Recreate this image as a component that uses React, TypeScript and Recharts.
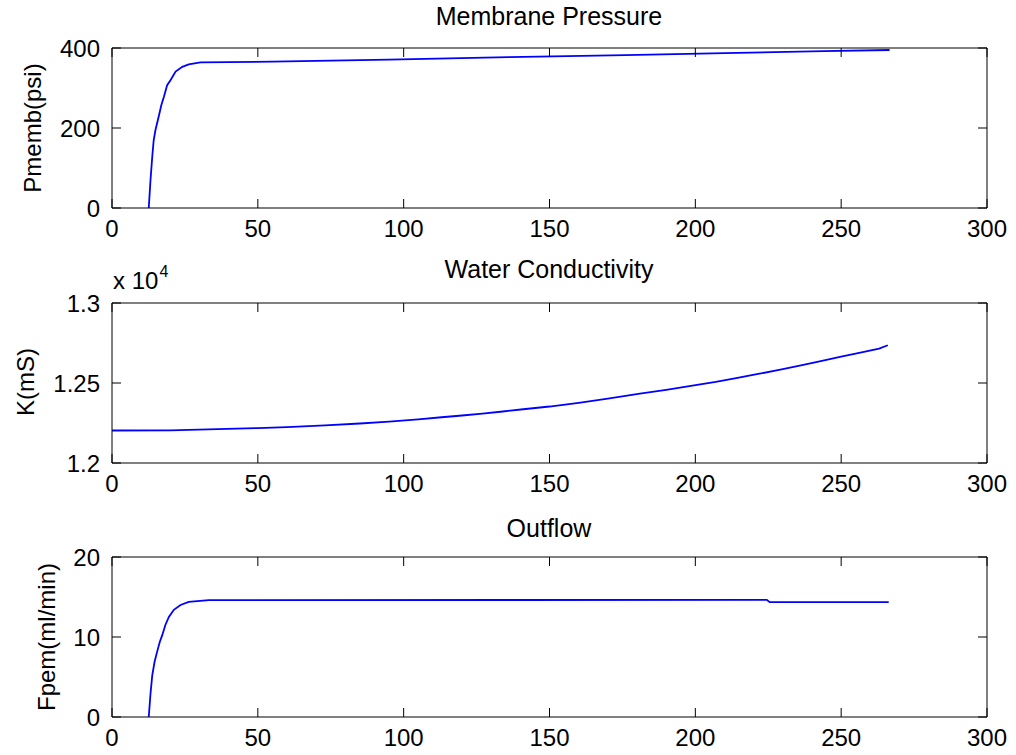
import React from 'react'
import { LineChart, Line, XAxis, YAxis } from 'recharts'

// shared time axis ticks
const xTicks = [0, 50, 100, 150, 200, 250, 300]

// Membrane pressure (psi)
const pressureTime = [12.6, 13.2, 13.8, 14.3, 14.9, 16.0, 16.9, 17.8, 18.9, 20.1, 21.8, 24.1, 26.3, 30.3, 55, 95, 136, 176, 210, 244, 266.6]
const pressurePsi = [0, 70, 128, 170, 195, 228, 257, 278, 307, 320, 341, 353, 359, 364, 366, 371, 377, 382, 387, 392, 395]
const pressureTicks = [0, 200, 400]

// Water conductivity (mS)
const condTime = [0, 20, 33, 50, 60, 73, 85, 95, 105, 113, 120, 127, 134, 141, 150, 160, 170, 181, 190, 199, 207, 214, 222, 230, 237, 243, 250, 257, 263, 266]
const condK = [12203, 12204, 12210, 12218, 12224, 12235, 12247, 12259, 12273, 12286, 12297, 12309, 12322, 12336, 12353, 12376, 12402, 12434, 12457, 12483, 12507, 12531, 12558, 12587, 12613, 12637, 12665, 12692, 12715, 12736]
const condTicks = [12000, 12500, 13000]

// Outflow (ml/min)
const flowTime = [12.6, 13.2, 13.8, 14.6, 15.5, 16.4, 17.2, 18.3, 19.5, 21.2, 23.5, 26.3, 33.2, 224.5, 225.5, 266.3]
const flowRate = [0, 2.9, 5.2, 6.9, 8.2, 9.4, 10.2, 11.5, 12.5, 13.4, 14.0, 14.4, 14.6, 14.65, 14.35, 14.35]
const flowTicks = [0, 10, 20]

const FONT = '"Liberation Sans", Arial, Helvetica, sans-serif'

// layout of each subplot
const PLOT_TOP = 48
const PLOT_H = 160
const AXIS_H = 38
const TICK_LEN = 9
const LABEL_GAP = 12

// y tick marks only, no labels
const NoLabel = () => <g />

// x tick label plus the inward marks on the bottom and top edges (matlab box)
function XTick(props: any) {
  const { x, y, payload } = props
  const base = y - LABEL_GAP
  return (
    <g>
      <line x1={x} x2={x} y1={base} y2={base - TICK_LEN} stroke="#000" />
      <line x1={x} x2={x} y1={base - PLOT_H} y2={base - PLOT_H + TICK_LEN} stroke="#000" />
      <text x={x} y={y} dy="0.71em" textAnchor="middle" fill="#000" fontSize={24} fontFamily={FONT}>
        {payload.value}
      </text>
    </g>
  )
}

interface PanelProps {
  top: number
  times: number[]
  values: number[]
  yTicks: number[]
  yFormat?: (v: number) => string
}

function Panel({ top, times, values, yTicks, yFormat }: PanelProps) {
  const rows = times.map((t, i) => ({ t, v: values[i] }))
  const tickStyle = { fill: '#000', fontSize: 24, fontFamily: FONT }
  const yDomain = [yTicks[0], yTicks[yTicks.length - 1]]
  return (
    <div style={{ position: 'absolute', left: 0, top }}>
      <LineChart
        width={1016}
        height={PLOT_TOP + PLOT_H + AXIS_H}
        data={rows}
        margin={{ top: PLOT_TOP, right: 29, bottom: 0, left: 0 }}
      >
        <XAxis
          xAxisId="b"
          dataKey="t"
          type="number"
          domain={[0, 300]}
          ticks={xTicks}
          interval={0}
          height={AXIS_H}
          tickSize={0}
          tickMargin={LABEL_GAP}
          tickLine={false}
          axisLine={false}
          tick={XTick}
          allowDataOverflow
        />
        <YAxis
          yAxisId="l"
          type="number"
          domain={yDomain}
          ticks={yTicks}
          interval={0}
          width={112}
          tickSize={0}
          tickMargin={LABEL_GAP}
          tickLine={false}
          axisLine={false}
          tick={tickStyle}
          tickFormatter={yFormat}
          allowDataOverflow
        />
        {/* box edges; y ones carry the inward ticks */}
        <XAxis xAxisId="bm" mirror type="number" domain={[0, 300]} ticks={xTicks}
          tickLine={false} tick={NoLabel} stroke="#000" allowDataOverflow />
        <XAxis xAxisId="tm" mirror orientation="top" type="number" domain={[0, 300]} ticks={xTicks}
          tickLine={false} tick={NoLabel} stroke="#000" allowDataOverflow />
        <YAxis yAxisId="lm" mirror type="number" domain={yDomain} ticks={yTicks} interval={0}
          tickSize={TICK_LEN} tick={NoLabel} stroke="#000" allowDataOverflow />
        <YAxis yAxisId="rm" mirror orientation="right" type="number" domain={yDomain} ticks={yTicks} interval={0}
          tickSize={TICK_LEN} tick={NoLabel} stroke="#000" allowDataOverflow />
        <Line
          xAxisId="b"
          yAxisId="l"
          dataKey="v"
          type="linear"
          stroke="#0000ff"
          strokeWidth={1.8}
          dot={false}
          isAnimationActive={false}
        />
      </LineChart>
    </div>
  )
}

const titleStyle: React.CSSProperties = {
  position: 'absolute',
  left: 0,
  width: 1098,
  textAlign: 'center',
  fontSize: 25,
  lineHeight: 1,
  color: '#000',
  whiteSpace: 'nowrap',
}

function YLabel({ x, y, text }: { x: number; y: number; text: string }) {
  return (
    <div style={{ position: 'absolute', left: x, top: y, width: 0, height: 0 }}>
      <span
        style={{
          position: 'absolute',
          left: 0,
          top: 0,
          fontSize: 24,
          lineHeight: 1,
          whiteSpace: 'nowrap',
          transform: 'translate(-50%, -50%) rotate(-90deg)',
          color: '#000',
        }}
      >
        {text}
      </span>
    </div>
  )
}

export default function App() {
  return (
    <div
      style={{
        position: 'absolute',
        left: 0,
        top: 0,
        width: 1016,
        height: 755,
        overflow: 'hidden',
        background: '#fff',
        fontFamily: FONT,
      }}
    >
      <Panel top={0} times={pressureTime} values={pressurePsi} yTicks={pressureTicks} />
      <Panel
        top={255}
        times={condTime}
        values={condK}
        yTicks={condTicks}
        yFormat={(v: number) => String(v / 10000)}
      />
      <Panel top={509} times={flowTime} values={flowRate} yTicks={flowTicks} />

      <div style={{ ...titleStyle, top: 4 }}>Membrane Pressure</div>
      <div style={{ ...titleStyle, top: 257 }}>Water Conductivity</div>
      <div style={{ ...titleStyle, top: 516 }}>Outflow</div>

      <div style={{ position: 'absolute', left: 113, top: 269, fontSize: 24, lineHeight: 1, whiteSpace: 'nowrap' }}>
        x 10<span style={{ fontSize: 16, position: 'relative', top: -12, marginLeft: 1 }}>4</span>
      </div>

      <YLabel x={33} y={128} text="Pmemb(psi)" />
      <YLabel x={26} y={382} text="K(mS)" />
      <YLabel x={47} y={637} text="Fpem(ml/min)" />
    </div>
  )
}
